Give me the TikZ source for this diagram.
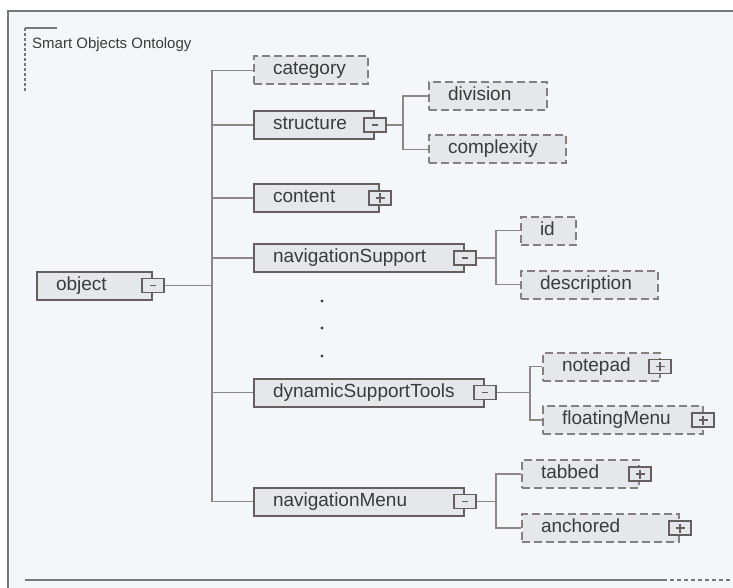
\documentclass[tikz,border=0pt]{standalone}
\usepackage{fontspec}
\setmainfont{Liberation Sans}
\usetikzlibrary{calc}
\definecolor{bgc}{HTML}{F4F7F9}
\definecolor{boxc}{HTML}{E5E8EB}
\definecolor{solidc}{HTML}{675F5F}
\definecolor{dashc}{HTML}{877F7F}
\definecolor{connc}{HTML}{918686}
\definecolor{framec}{HTML}{777777}
\definecolor{textc}{HTML}{3C3A3A}
\begin{document}
\begin{tikzpicture}[x=1pt,y=-1pt,
  common/.style={fill=boxc, minimum height=28pt, inner xsep=0pt, inner ysep=0pt,
    text width=#1pt, align=left, anchor=west, text height=13pt, text depth=4pt,
    text=textc, font=\fontsize{19}{22}\selectfont, execute at begin node={\hspace*{19pt}}},
  sbox/.style={common=#1, draw=solidc, line width=2pt},
  dbox/.style={common=#1, draw=dashc, line width=2pt, dash pattern=on 8pt off 4pt},
  icon/.style={draw=solidc, line width=1.8pt, fill=boxc, minimum width=22pt, minimum height=14pt, inner sep=0pt},
  minus/.style={icon, path picture={\draw[line width=1.6pt, solidc]
     ([xshift=-3pt]path picture bounding box.center) -- ([xshift=3pt]path picture bounding box.center);}},
  plus/.style={icon, path picture={\draw[line width=1.6pt, solidc]
     ([xshift=-4.5pt]path picture bounding box.center) -- ([xshift=4.5pt]path picture bounding box.center)
     ([yshift=-4.5pt]path picture bounding box.center) -- ([yshift=4.5pt]path picture bounding box.center);}},
  conn/.style={draw=connc, line width=1.6pt},
  frame/.style={draw=framec, line width=2.4pt}
]
\useasboundingbox (0,0) rectangle (733,588);
\fill[white] (0,0) rectangle (733,588);
\fill[bgc] (8,11) rectangle (733,588);
\draw[frame] (8,588) -- (8,11) -- (733,11);
\draw[frame] (25,580) -- (663,580);
\draw[framec, line width=1.6pt, dash pattern=on 4pt off 3pt] (663,580) -- (733,580);

% title bracket
\draw[framec, line width=1.6pt] (25,28) -- (57,28);
\draw[framec, line width=1.6pt, dash pattern=on 3pt off 2pt] (25,28) -- (25,92);
\node[anchor=base west, inner sep=0pt, text=textc, font=\fontsize{15}{18}\selectfont] (title) at (32,49) {Smart Objects Ontology};

% nodes
\node[sbox=115] (obj) at (36,285.5) {object};
\node[dbox=114] (cat) at (253,70.5) {category};
\node[sbox=120] (str) at (253,125) {structure};
\node[dbox=118] (div) at (428,96) {division};
\node[dbox=137] (cplx) at (428,149.5) {complexity};
\node[sbox=125] (con) at (253,198) {content};
\node[sbox=210] (nav) at (253,258) {navigationSupport};
\node[dbox=55] (id) at (520,230.5) {id};
\node[dbox=137] (desc) at (520,284.5) {description};
\node[sbox=230] (dyn) at (253,392.5) {dynamicSupportTools};
\node[dbox=117] (note) at (542,366.5) {notepad};
\node[dbox=160] (float) at (542,420) {floatingMenu};
\node[sbox=210] (nm) at (253,501.5) {navigationMenu};
\node[dbox=117] (tab) at (521,474) {tabbed};
\node[dbox=157] (anch) at (521,528) {anchored};

% icons
\node[minus] (objI) at (obj.east) {};
\node[minus] (strI) at (str.east) {};
\node[plus] (conI) at (con.east) {};
\node[minus] (navI) at (nav.east) {};
\node[minus] (dynI) at (dyn.east) {};
\node[plus] (noteI) at ([xshift=-1pt]note.east) {};
\node[plus] (floatI) at ([xshift=-1pt]float.east) {};
\node[minus] (nmI) at (nm.east) {};
\node[plus] (tabI) at (tab.east) {};
\node[plus] (anchI) at (anch.east) {};

% branch coordinates
\coordinate (T) at (212,0);
\coordinate (B1) at (403,0);
\coordinate (B2) at (496,0);
\coordinate (B3) at (530,0);
\coordinate (B4) at (496,0);

% connectors
\foreach \c in {cat,str,con,nav,dyn,nm}
  \draw[conn] (objI.east) -- (objI.east -| T) |- (\c.west);
\foreach \c in {div,cplx}
  \draw[conn] (strI.east) -- (strI.east -| B1) |- (\c.west);
\foreach \c in {id,desc}
  \draw[conn] (navI.east) -- (navI.east -| B2) |- (\c.west);
\foreach \c in {note,float}
  \draw[conn] (dynI.east) -- (dynI.east -| B3) |- (\c.west);
\foreach \c in {tab,anch}
  \draw[conn] (nmI.east) -- (nmI.east -| B4) |- (\c.west);

% ellipsis dots
\fill[textc] (322,301) circle (1.7pt);
\fill[textc] (322,328) circle (1.7pt);
\fill[textc] (322,356) circle (1.7pt);
\end{tikzpicture}
\end{document}
